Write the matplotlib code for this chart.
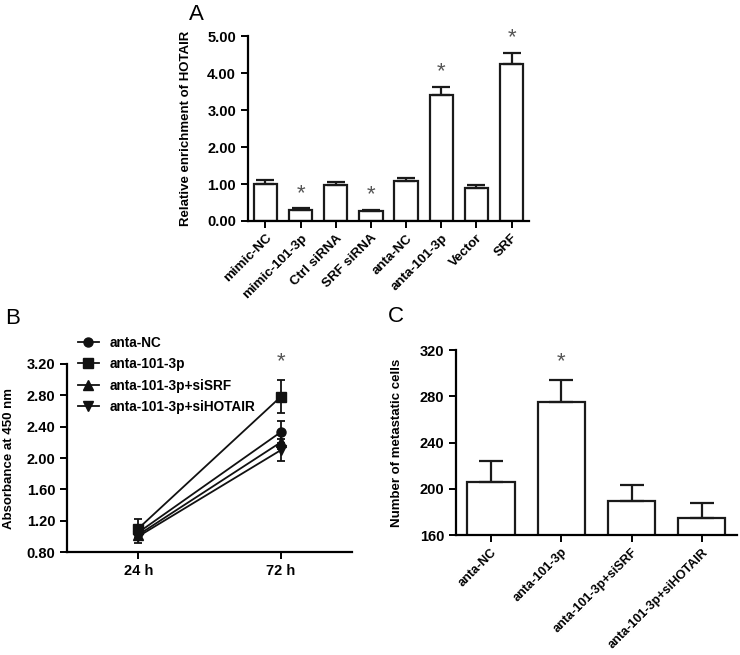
import matplotlib
matplotlib.use('Agg')
import matplotlib.pyplot as plt
from matplotlib.lines import Line2D
import numpy as np

plt.rcParams['font.family'] = ['Liberation Sans', 'DejaVu Sans']
plt.rcParams['font.weight'] = 'bold'
plt.rcParams['axes.labelweight'] = 'bold'

# Panel A data
a_labels = ['mimic-NC', 'mimic-101-3p', 'Ctrl siRNA', 'SRF siRNA',
            'anta-NC', 'anta-101-3p', 'Vector', 'SRF']
a_values = [1.00, 0.30, 0.98, 0.27, 1.07, 3.41, 0.89, 4.24]
a_errors = [0.10, 0.04, 0.08, 0.04, 0.10, 0.21, 0.08, 0.30]
a_star = [False, True, False, True, False, True, False, True]

# Panel B data
b_times = ['24 h', '72 h']
b_series = ['anta-NC', 'anta-101-3p', 'anta-101-3p+siSRF', 'anta-101-3p+siHOTAIR']
b_markers = ['o', 's', '^', 'v']
b_values = [[1.05, 2.33], [1.10, 2.78], [1.02, 2.20], [1.00, 2.10]]
b_errors = [[0.08, 0.14], [0.12, 0.21], [0.07, 0.09], [0.08, 0.14]]

# Panel C data
c_labels = ['anta-NC', 'anta-101-3p', 'anta-101-3p+siSRF', 'anta-101-3p+siHOTAIR']
c_values = [206, 275, 189, 175]
c_errors = [18, 19, 14, 13]
c_star = [False, True, False, False]

fig = plt.figure(figsize=(7.4, 6.55), dpi=100)
STAR = dict(ha='center', va='bottom', fontsize=16, fontweight='normal', color='#555555')


def style(ax):
    ax.spines['top'].set_visible(False)
    ax.spines['right'].set_visible(False)
    for s in ['left', 'bottom']:
        ax.spines[s].set_linewidth(1.6)
    ax.tick_params(width=1.4, length=5, labelsize=10.5)


# ---- Panel A
axA = fig.add_axes([0.335, 0.6626, 0.380, 0.2824])
style(axA)
xa = np.arange(len(a_labels))
axA.bar(xa, a_values, width=0.66, color='white', edgecolor='#1a1a1a', linewidth=1.6,
        yerr=[np.zeros(len(a_errors)), a_errors],
        error_kw=dict(ecolor='#1a1a1a', elinewidth=1.6, capsize=6.5, capthick=1.6))
for i, s in enumerate(a_star):
    if s:
        axA.text(xa[i], a_values[i] + a_errors[i] + 0.12, '*', **STAR)
axA.set_xlim(-0.5, 7.5)
axA.set_ylim(0, 5)
axA.set_yticks(np.arange(0, 5.01, 1))
axA.set_yticklabels(['%.2f' % v for v in np.arange(0, 5.01, 1)])
axA.set_xticks(xa)
axA.set_xticklabels(a_labels, rotation=45, ha='right', rotation_mode='anchor')
axA.tick_params(axis='x', labelsize=9.6, pad=3)
axA.set_ylabel('Relative enrichment of HOTAIR', fontsize=9.5, labelpad=11)

# ---- Panel B
axB = fig.add_axes([0.0905, 0.157, 0.385, 0.2873])
style(axB)
xb = np.arange(len(b_times))
handles = []
for name, m, v, e in zip(b_series, b_markers, b_values, b_errors):
    axB.errorbar(xb, v, yerr=e, marker=m, color='#111111', markersize=6.5, linewidth=1.3,
                 elinewidth=1.3, capsize=3, capthick=1.3)
    handles.append(Line2D([], [], color='#111111', marker=m, markersize=6.5, linewidth=1.3, label=name))
axB.text(1, 3.1, '*', **STAR)
axB.set_xlim(-0.5, 1.5)
axB.set_ylim(0.8, 3.2)
yb = np.arange(0.8, 3.21, 0.4)
axB.set_yticks(yb)
axB.set_yticklabels(['%.2f' % v for v in yb])
axB.set_xticks(xb)
axB.set_xticklabels(b_times)
axB.set_ylabel('Absorbance at 450 nm', fontsize=9.5, labelpad=8)
axB.legend(handles=handles, loc='upper left', bbox_to_anchor=(0.02, 1.18), frameon=False,
           fontsize=9.8, handlelength=1.5, handletextpad=0.8, labelspacing=0.55, borderaxespad=0)

# ---- Panel C
axC = fig.add_axes([0.616, 0.1832, 0.380, 0.2824])
style(axC)
xc = np.arange(len(c_labels))
axC.bar(xc, c_values, width=0.67, color='white', edgecolor='#1a1a1a', linewidth=1.6,
        yerr=[np.zeros(len(c_errors)), c_errors],
        error_kw=dict(ecolor='#1a1a1a', elinewidth=1.6, capsize=8.5, capthick=1.6))
for i, s in enumerate(c_star):
    if s:
        axC.text(xc[i], c_values[i] + c_errors[i] + 7, '*', **STAR)
axC.set_xlim(-0.5, 3.5)
axC.set_ylim(160, 320)
axC.set_yticks(np.arange(160, 321, 40))
axC.set_xticks(xc)
axC.set_xticklabels(c_labels, rotation=45, ha='right', rotation_mode='anchor')
axC.tick_params(axis='x', labelsize=9.1, pad=3)
axC.set_ylabel('Number of metastatic cells', fontsize=9.5, labelpad=12)

# panel letters
fig.text(189 / 740, 1 - 15 / 655, 'A', fontsize=16, fontweight='normal', ha='left', va='center')
fig.text(5 / 740, 1 - 318 / 655, 'B', fontsize=16, fontweight='normal', ha='left', va='center')
fig.text(388 / 740, 1 - 316 / 655, 'C', fontsize=16, fontweight='normal', ha='left', va='center')

fig.savefig('out.png', dpi=100)
